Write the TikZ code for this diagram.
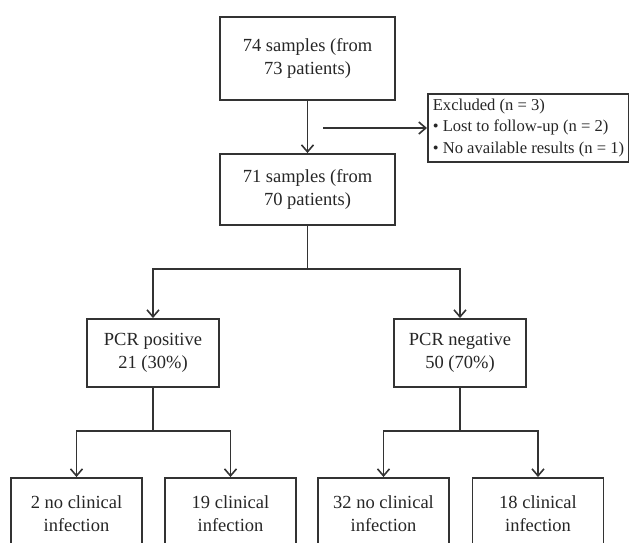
\documentclass[tikz,border=0pt]{standalone}
\usepackage{fontspec}
\setmainfont{Liberation Serif}
\usetikzlibrary{arrows.meta}
\definecolor{ln}{HTML}{333333}
\begin{document}
\begin{tikzpicture}[x=1pt,y=1pt,
  box/.style={draw=ln,line width=1.9pt,rectangle,inner sep=0pt,align=center,
    font=\fontsize{18.5}{23.5}\selectfont,text=black!85},
  conn/.style={draw=ln,line width=1.7pt},
  arr/.style={conn,-{Straight Barb[length=7pt,width=12pt,line width=1.6pt]}}]
\clip (0,0) rectangle (629,-542);
\node[box,minimum width=175pt,minimum height=83pt] (b1) at (307.5,-58.5) {74 samples (from\\73 patients)};
\node[box,minimum width=175pt,minimum height=71pt] (b2) at (307.5,-189.5) {71 samples (from\\70 patients)};
\node[box,minimum width=201pt,minimum height=68pt,align=left,anchor=west,
  font=\fontsize{16.6}{21.5}\selectfont] (ex) at (427,-128)
  {Excluded (n = 3)\\\textbullet\ Lost to follow-up (n = 2)\\\textbullet\ No available results (n = 1)};
\node[box,minimum width=132pt,minimum height=68pt] (pos) at (153,-353) {PCR positive\\21 (30\%)};
\node[box,minimum width=132pt,minimum height=68pt] (neg) at (460,-353) {PCR negative\\50 (70\%)};
\node[box,minimum width=131pt,minimum height=71pt] (a) at (76.5,-513.5) {2 no clinical\\infection};
\node[box,minimum width=131pt,minimum height=71pt] (b) at (230.5,-513.5) {19 clinical\\infection};
\node[box,minimum width=131pt,minimum height=71pt] (c) at (383.5,-513.5) {32 no clinical\\infection};
\node[box,minimum width=131pt,minimum height=71pt] (d) at (538,-513.5) {18 clinical\\infection};
\coordinate (s) at (323,-128);
\draw[arr] (b1.south) -- (b2.north);
\draw[arr] (s) -- (ex.west);
\draw[conn] (b2.south) -- ++(0,-43) coordinate (j1);
\draw[arr] (j1) -| (pos.north);
\draw[arr] (j1) -| (neg.north);
\draw[conn] (pos.south) -- ++(0,-43) coordinate (j2);
\draw[arr] (j2) -| (a.north);
\draw[arr] (j2) -| (b.north);
\draw[conn] (neg.south) -- ++(0,-43) coordinate (j3);
\draw[arr] (j3) -| (c.north);
\draw[arr] (j3) -| (d.north);
\end{tikzpicture}
\end{document}
